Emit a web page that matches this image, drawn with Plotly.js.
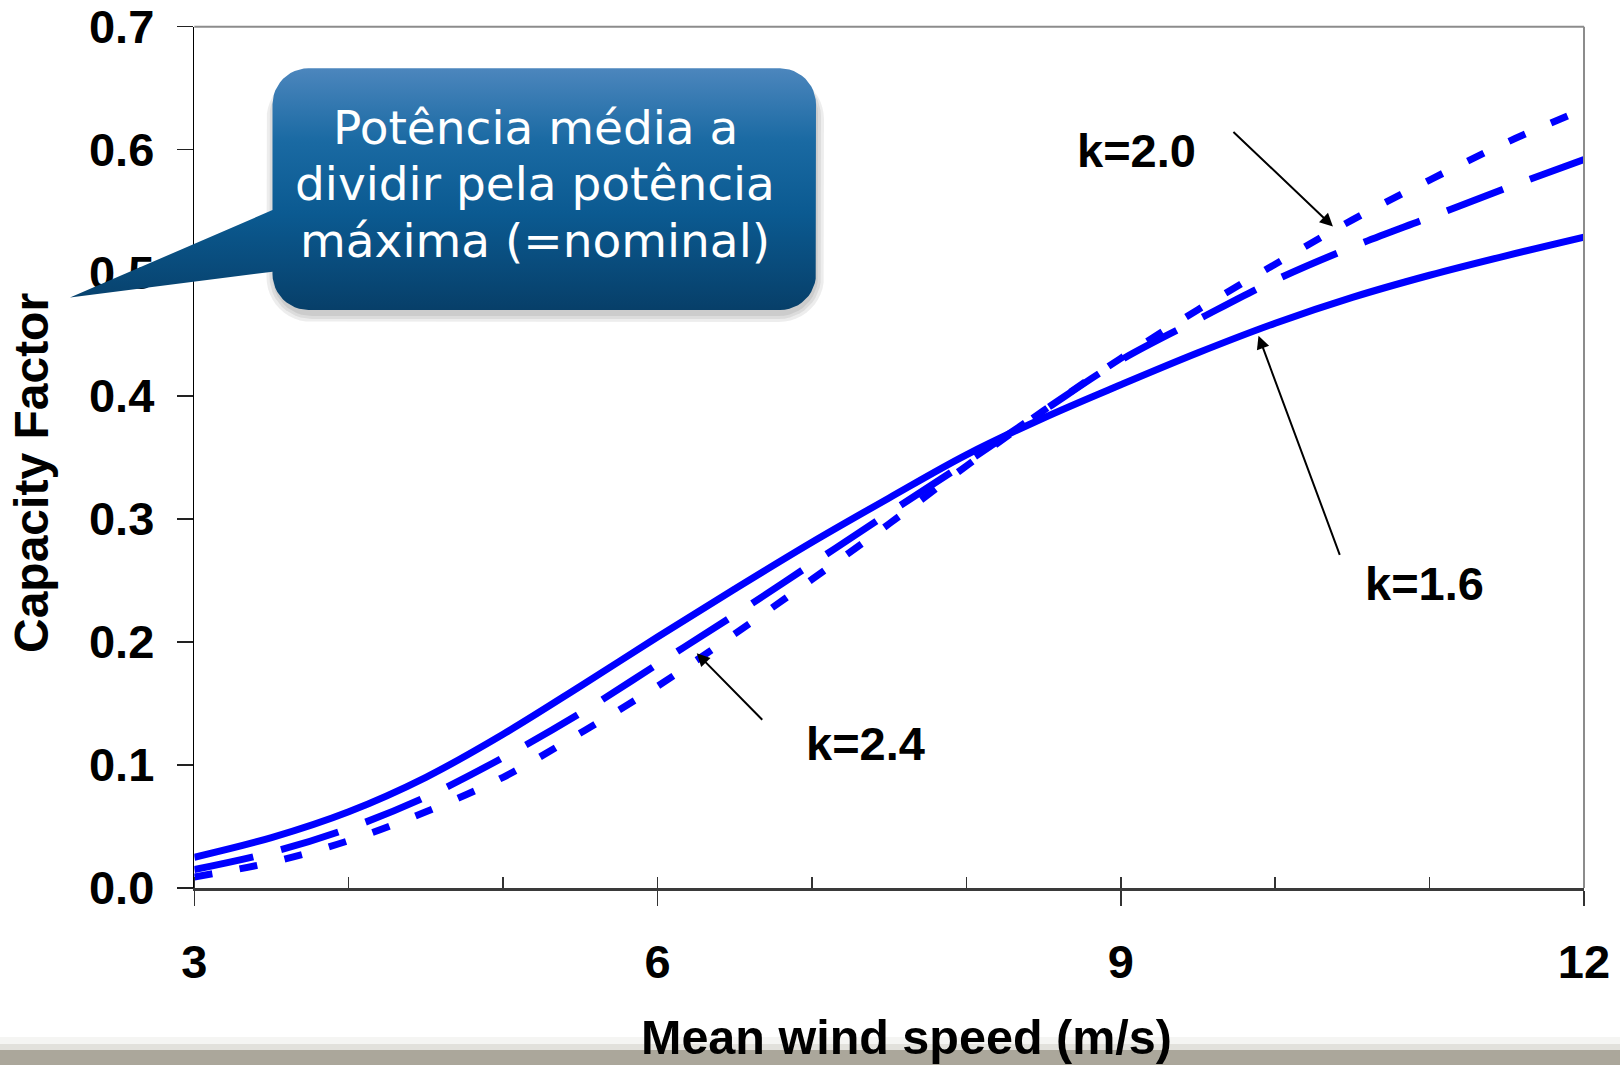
<!DOCTYPE html>
<html>
<head>
<meta charset="utf-8">
<script src="https://cdn.plot.ly/plotly-3.0.1.min.js"></script>
<style>
  html, body { margin: 0; padding: 0; background: #ffffff; }
  #chart { width: 1620px; height: 1065px; }
</style>
</head>
<body>
<div id="chart"></div>
<script>
// Capacity factor of a wind turbine vs. mean wind speed for three Weibull shape factors
const windSpeed = [3, 3.5, 4, 4.5, 5, 5.5, 6, 6.5, 7, 7.5, 8, 8.5, 9, 9.5, 10, 10.5, 11, 11.5, 12];
const cfK16 = [0.025, 0.041, 0.062, 0.090, 0.125, 0.164, 0.204, 0.243, 0.281, 0.317, 0.352, 0.382, 0.409, 0.435, 0.459, 0.480, 0.498, 0.514, 0.529];
const cfK20 = [0.015, 0.029, 0.0485, 0.074, 0.106, 0.142, 0.182, 0.222, 0.2635, 0.305, 0.346, 0.388, 0.429, 0.462, 0.494, 0.521, 0.545, 0.569, 0.592];
const cfK24 = [0.009, 0.021, 0.0385, 0.062, 0.090, 0.126, 0.164, 0.2065, 0.2508, 0.296, 0.343, 0.388, 0.4305, 0.470, 0.507, 0.543, 0.5754, 0.606, 0.633];

const xTickVals = [3, 6, 9, 12];
const xTickText = ['3', '6', '9', '12'];
const yTickVals = [0, 0.1, 0.2, 0.3, 0.4, 0.5, 0.6, 0.7];
const yTickText = ['0.0', '0.1', '0.2', '0.3', '0.4', '0.5', '0.6', '0.7'];

const curveLabels = ['k=1.6', 'k=2.0', 'k=2.4'];
const xTitle = 'Mean wind speed (m/s)';
const yTitle = 'Capacity Factor';
const calloutLines = ['Potência média a', 'dividir pela potência', 'máxima (=nominal)'];

// ---- page geometry (pixels) ----
const W = 1620, H = 1065;
const PL = 194.3, PR = 1584, PT = 26.7, PB = 888;
const px = x => x / W;
const py = y => 1 - y / H;

const BOLD = 'Liberation Sans, Arial, sans-serif';
const BLUE = '#0000ff';

// rounded rectangle outline (screen coords, y down), optional pointer on the left edge
function roundedBox(x0, y0, x1, y1, r, tail) {
  const xs = [], ys = [];
  const arc = (cx, cy, a0, a1) => {
    for (let i = 0; i <= 12; i++) {
      const a = (a0 + (a1 - a0) * i / 12) * Math.PI / 180;
      xs.push(cx + r * Math.cos(a));
      ys.push(cy + r * Math.sin(a));
    }
  };
  arc(x1 - r, y0 + r, -90, 0);
  arc(x1 - r, y1 - r, 0, 90);
  arc(x0 + r, y1 - r, 90, 180);
  if (tail) {
    xs.push(x0, tail.tipX, x0);
    ys.push(tail.yLow, tail.tipY, tail.yHigh);
  }
  arc(x0 + r, y0 + r, 180, 270);
  xs.push(xs[0]); ys.push(ys[0]);
  return { xs, ys };
}

const box = { x0: 272.5, y0: 68.3, x1: 816, y1: 310, r: 36 };
const pointer = { yLow: 271.7, tipX: 70, tipY: 297.6, yHigh: 210 };

const traces = [];

// the three capacity-factor curves
const series = [
  { y: cfK16, dash: 'solid', name: curveLabels[0] },
  { y: cfK20, dash: '60px,29px', name: curveLabels[1] },
  { y: cfK24, dash: '18px,28px', name: curveLabels[2] }
];
series.forEach(s => traces.push({
  x: windSpeed, y: s.y, name: s.name, type: 'scatter', mode: 'lines',
  xaxis: 'x', yaxis: 'y',
  line: { color: BLUE, width: 7, dash: s.dash, shape: 'spline', smoothing: 1 },
  hoverinfo: 'skip', showlegend: false
}));

// soft shadow under the callout
[9, 6, 3].forEach(e => {
  const s = roundedBox(box.x0 - e + 3, box.y0 + 6, box.x1 + e - 1, box.y1 + e + 3, box.r + e);
  traces.push({
    x: s.xs, y: s.ys, xaxis: 'x3', yaxis: 'y3', type: 'scatter', mode: 'lines',
    fill: 'toself', fillcolor: 'rgba(0,0,0,0.07)', line: { width: 0 },
    hoverinfo: 'skip', showlegend: false
  });
});

// callout body with gradient fill
const c = roundedBox(box.x0, box.y0, box.x1, box.y1, box.r, pointer);
traces.push({
  x: c.xs, y: c.ys, xaxis: 'x3', yaxis: 'y3', type: 'scatter', mode: 'lines',
  fill: 'toself',
  fillgradient: {
    type: 'vertical', start: box.y0, stop: box.y1,
    colorscale: [[0, '#4c86bd'], [0.3, '#1a6aa3'], [0.6, '#0b5a91'], [1, '#073f69']]
  },
  line: { width: 0 }, hoverinfo: 'skip', showlegend: false
});

const tickFont = { family: BOLD, size: 47, color: '#000000', weight: 'bold' };
const labelFont = { family: BOLD, size: 47, color: '#000000', weight: 'bold' };

const annotations = [
  // axis titles
  { xref: 'paper', yref: 'paper', x: px(906.5), y: py(1037), text: xTitle, showarrow: false,
    xanchor: 'center', yanchor: 'middle', font: { family: BOLD, size: 48.5, color: '#000', weight: 'bold' } },
  { xref: 'paper', yref: 'paper', x: px(32), y: py(473), text: yTitle, showarrow: false, textangle: -90,
    xanchor: 'center', yanchor: 'middle', font: { family: BOLD, size: 48, color: '#000', weight: 'bold' } },
  // curve labels
  { xref: 'x', yref: 'y', x: 10.966, y: 0.2476, text: curveLabels[0], showarrow: false,
    xanchor: 'center', yanchor: 'middle', font: labelFont },
  { xref: 'x', yref: 'y', x: 9.103, y: 0.5994, text: curveLabels[1], showarrow: false,
    xanchor: 'center', yanchor: 'middle', font: labelFont },
  { xref: 'x', yref: 'y', x: 7.344, y: 0.1176, text: curveLabels[2], showarrow: false,
    xanchor: 'center', yanchor: 'middle', font: labelFont },
  // pointer arrows
  { xref: 'x', yref: 'y', x: 9.892, y: 0.4488, ax: 82, ay: 221, text: ' ', font: { size: 1 },
    showarrow: true, arrowhead: 2, arrowsize: 1.3, arrowwidth: 2, arrowcolor: '#000' },
  { xref: 'x', yref: 'y', x: 10.374, y: 0.5376, ax: -101, ay: -96, text: ' ', font: { size: 1 },
    showarrow: true, arrowhead: 2, arrowsize: 1.3, arrowwidth: 2, arrowcolor: '#000' },
  { xref: 'x', yref: 'y', x: 6.254, y: 0.1908, ax: 67, ay: 68, text: ' ', font: { size: 1 },
    showarrow: true, arrowhead: 2, arrowsize: 1.3, arrowwidth: 2, arrowcolor: '#000' }
];

// callout text, one line per annotation
const calloutLineY = [127.5, 183.5, 240];
calloutLines.forEach((t, i) => annotations.push({
  xref: 'paper', yref: 'paper', x: px(535), y: py(calloutLineY[i]), text: t, showarrow: false,
  xanchor: 'center', yanchor: 'middle', align: 'center',
  font: { family: 'DejaVu Sans, Verdana, sans-serif', size: 47, color: '#ffffff' }
}));

const layout = {
  width: W, height: H,
  margin: { l: 0, r: 0, t: 0, b: 0, pad: 0 },
  paper_bgcolor: '#ffffff',
  plot_bgcolor: 'rgba(0,0,0,0)',
  showlegend: false,
  xaxis: {
    domain: [px(PL), px(PR)], range: [3, 12], anchor: 'y',
    tickmode: 'array', tickvals: xTickVals, ticktext: xTickText,
    ticks: 'outside', ticklen: 15, tickwidth: 1.5, tickcolor: '#333333',
    ticklabelstandoff: 16,
    minor: { tickmode: 'linear', tick0: 3, dtick: 1, ticks: 'inside', ticklen: 11, tickwidth: 1.5, tickcolor: '#333333', showgrid: false },
    showline: true, linecolor: '#3a3a3a', linewidth: 2.5,
    showgrid: false, zeroline: false, tickfont: tickFont, fixedrange: true
  },
  xaxis2: {
    overlaying: 'x', anchor: 'y', range: [3, 12],
    tickmode: 'array', tickvals: xTickVals, ticks: 'inside', ticklen: 11, tickwidth: 1.5, tickcolor: '#333333',
    showticklabels: false, showline: false, showgrid: false, zeroline: false, fixedrange: true
  },
  yaxis: {
    domain: [py(PB), py(PT)], range: [0, 0.7], anchor: 'x',
    tickmode: 'array', tickvals: yTickVals, ticktext: yTickText,
    ticks: 'outside', ticklen: 16, tickwidth: 1.5, tickcolor: '#222222',
    ticklabelstandoff: 13,
    showline: true, linecolor: '#000000', linewidth: 1.6,
    showgrid: false, zeroline: false, tickfont: tickFont, fixedrange: true
  },
  xaxis3: { domain: [0, 1], range: [0, W], anchor: 'y3', visible: false, fixedrange: true },
  yaxis3: { domain: [0, 1], range: [H, 0], anchor: 'x3', visible: false, fixedrange: true },
  shapes: [
    // frame top and right
    { type: 'line', xref: 'paper', yref: 'paper', x0: px(PL), x1: px(PR), y0: py(PT), y1: py(PT), line: { color: '#8c8c8c', width: 2 }, layer: 'above' },
    { type: 'line', xref: 'paper', yref: 'paper', x0: px(PR), x1: px(PR), y0: py(PT), y1: py(PB), line: { color: '#8c8c8c', width: 2 }, layer: 'above' },
    // footer band
    { type: 'rect', xref: 'paper', yref: 'paper', x0: 0, x1: 1, y0: py(1044), y1: py(1037), fillcolor: '#f5f5f3', line: { width: 0 }, layer: 'below' },
    { type: 'rect', xref: 'paper', yref: 'paper', x0: 0, x1: 1, y0: py(1050), y1: py(1044), fillcolor: '#e2e1dc', line: { width: 0 }, layer: 'below' },
    { type: 'rect', xref: 'paper', yref: 'paper', x0: 0, x1: 1, y0: 0, y1: py(1050), fillcolor: '#aba79b', line: { width: 0 }, layer: 'below' }
  ],
  annotations: annotations
};

Plotly.newPlot('chart', traces, layout, { staticPlot: true, displayModeBar: false });
</script>
</body>
</html>
